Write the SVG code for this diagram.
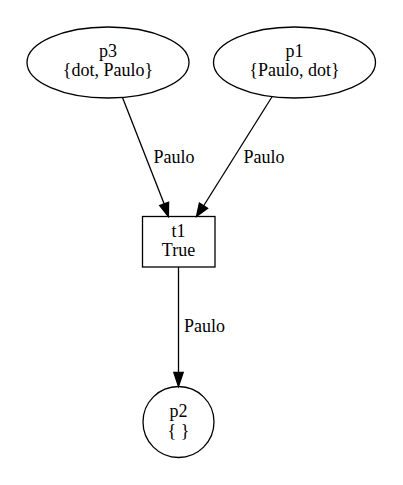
<svg xmlns="http://www.w3.org/2000/svg" width="403" height="485" viewBox="0 0 403 485">
  <style>
    .shape { fill: none; stroke: #000; stroke-width: 1.3; }
    .edge { fill: none; stroke: #000; stroke-width: 1.3; }
    .head { fill: #000; stroke: #000; stroke-width: 1.3; }
  </style>
  <rect width="403" height="485" fill="#fff"/>

  <g font-family="Liberation Serif, DejaVu Serif, serif" font-size="18" text-anchor="middle" fill="#000">
    <g id="connectors">
      <g id="p3-t1">
        <path class="edge" d="M122.5,97.5 L164.2,204"/>
        <polygon class="head" points="168.4,216.5 159.7,205.6 168.6,202.2"/>
        <text x="174" y="163">Paulo</text>
      </g>
      <g id="p1-t1">
        <path class="edge" d="M272.2,96.5 L203.5,206"/>
        <polygon class="head" points="196.5,216.5 199.4,203.1 207.6,208.4"/>
        <text x="264" y="163">Paulo</text>
      </g>
      <g id="t1-p2">
        <path class="edge" d="M178.5,267 L178.5,373"/>
        <polygon class="head" points="178.5,386.5 173.8,372.5 183.2,372.5"/>
        <text x="204.5" y="332">Paulo</text>
      </g>
    </g>

    <g id="p3">
      <ellipse class="shape" cx="108" cy="62.5" rx="81" ry="35.5"/>
      <text x="108" y="57">p3</text>
      <text x="108" y="76">{dot, Paulo}</text>
    </g>

    <g id="p1">
      <ellipse class="shape" cx="294.5" cy="62.5" rx="81" ry="35.5"/>
      <text x="294.5" y="57">p1</text>
      <text x="294.5" y="76">{Paulo, dot}</text>
    </g>

    <g id="t1">
      <rect class="shape" x="142.5" y="216.5" width="72.5" height="50.5"/>
      <text x="178.5" y="237">t1</text>
      <text x="178.5" y="256">True</text>
    </g>

    <g id="p2">
      <circle class="shape" cx="178.5" cy="422" r="35.5"/>
      <text x="178.5" y="417">p2</text>
      <text x="178.5" y="437">{ }</text>
    </g>
  </g>
</svg>
